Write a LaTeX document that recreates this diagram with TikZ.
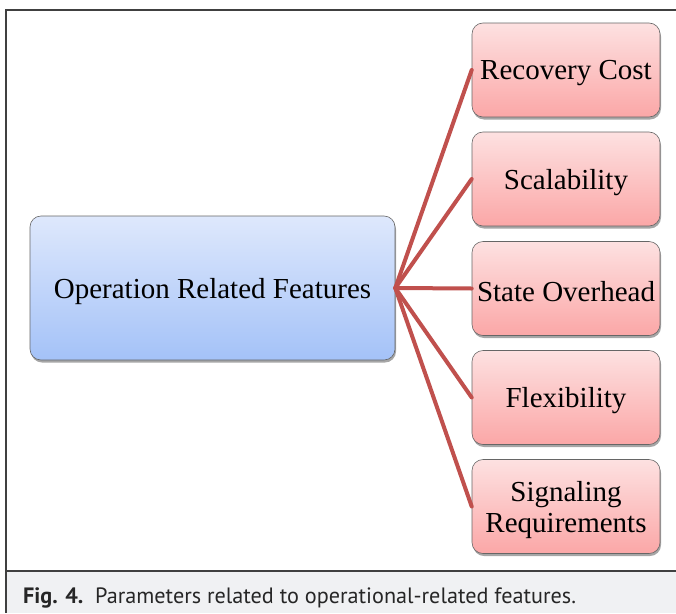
\documentclass[tikz,border=0pt]{standalone}
\usepackage{fontspec}
\setmainfont{Liberation Serif}
\newfontfamily\capfont{PT Sans}
\usetikzlibrary{shadows}
\definecolor{linkred}{HTML}{C0504D}
\definecolor{bluetop}{HTML}{DEE8FC}
\definecolor{bluebot}{HTML}{A4C2F8}
\definecolor{pinktop}{HTML}{FDE1E1}
\definecolor{pinkbot}{HTML}{FBA7A7}
\definecolor{capgray}{HTML}{F0F1F3}
\definecolor{framegray}{HTML}{404040}
\tikzset{
  basebox/.style={draw=gray!80!black, line width=0.6pt, rounded corners=11pt,
    inner sep=0pt,
    drop shadow={shadow xshift=1pt, shadow yshift=-2.5pt, opacity=0.35, fill=black}},
  mainbox/.style={basebox, top color=bluetop, bottom color=bluebot,
    minimum width=365pt, minimum height=144pt},
  featbox/.style={basebox, top color=pinktop, bottom color=pinkbot,
    minimum width=188pt, minimum height=94pt},
  boxtext/.style={align=center, inner sep=0pt, yshift=-3.5pt,
    font=\fontsize{29}{31}\selectfont},
  link/.style={draw=linkred, line width=4pt},
  frameline/.style={draw=framegray, line width=1.3pt}
}
\begin{document}
\begin{tikzpicture}[x=1pt,y=-1pt]
\useasboundingbox (0,0) rectangle (676,613);
\fill[white] (0,0) rectangle (676,613);
% caption band
\fill[capgray] (6,571) rectangle (676,613);
\draw[frameline] (676,10) -- (6,10) -- (6,613);
\draw[frameline] (6,571) -- (676,571);
\node[anchor=base west, inner sep=0pt, font=\capfont\fontsize{22.2}{25}\selectfont, text=black!85]
  (cap) at (23,603.5) {\textbf{Fig. 4.}\ \ Parameters related to operational-related features.};
% boxes
\node[mainbox] (main) at (212.5,288) {};
\node[featbox] (f1) at (566,70) {};
\node[featbox] (f2) at (566,179) {};
\node[featbox] (f3) at (566,288.5) {};
\node[featbox] (f4) at (566,397.5) {};
\node[featbox] (f5) at (566,506.5) {};
% box texts
\node[boxtext] (tmain) at (main.center) {Operation Related Features};
\node[boxtext] (t1) at (f1.center) {Recovery Cost};
\node[boxtext] (t2) at (f2.center) {Scalability};
\node[boxtext] (t3) at (f3.center) {State Overhead};
\node[boxtext] (t4) at (f4.center) {Flexibility};
\node[boxtext] (t5) at (f5.center) {Signaling\\Requirements};
% connectors
\foreach \f in {f1,f2,f3,f4,f5}
  \draw[link, line cap=round] (main.east) -- (\f.west);
\end{tikzpicture}
\end{document}
